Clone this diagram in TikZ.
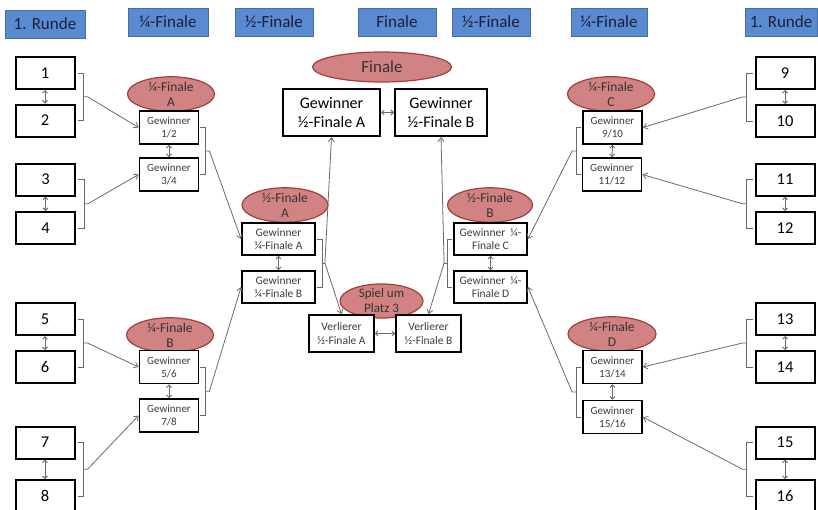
\documentclass[tikz,border=0pt]{standalone}
\usepackage{fontspec}
\setmainfont{Carlito}
\usetikzlibrary{shapes.geometric,arrows.meta}
\definecolor{hdrfill}{HTML}{5A8AD0}
\definecolor{hdrtext}{HTML}{1B1F3A}
\definecolor{elfill}{HTML}{D08382}
\definecolor{eldraw}{HTML}{A23E3E}
\definecolor{smalltext}{HTML}{3C3C3C}
\definecolor{linegray}{HTML}{6A6A6A}
\tikzset{
  hdr/.style={fill=hdrfill, draw=hdrfill!80!black, line width=0.4pt, minimum height=28, inner sep=0, text=hdrtext, font=\fontsize{17}{19}\selectfont},
  team/.style={draw=black, fill=white, line width=2pt, minimum width=59, minimum height=32, inner sep=0, font=\fontsize{16.5}{18}\selectfont},
  qbox/.style={draw=black, fill=white, line width=1.8pt, minimum width=59, minimum height=33, inner sep=0, align=center, text=smalltext, font=\fontsize{11}{13}\selectfont},
  sbox/.style={draw=black, fill=white, line width=1.8pt, minimum width=73, minimum height=32, inner sep=0, align=center, text=smalltext, font=\fontsize{11.5}{13.5}\selectfont},
  fbox/.style={draw=black, fill=white, line width=2pt, minimum height=47, inner sep=0, align=center, font=\fontsize{16}{19}\selectfont},
  vbox/.style={draw=black, fill=white, line width=1.8pt, minimum width=65, minimum height=37, inner sep=0, align=center, text=smalltext, font=\fontsize{11.5}{14}\selectfont},
  ell/.style={ellipse, draw=eldraw, fill=elfill, line width=1.2pt, inner sep=0, align=center, text=black!80, font=\fontsize{13.5}{15}\selectfont},
  brk/.style={draw=linegray, line width=0.8pt},
  arr/.style={draw=linegray, line width=0.8pt, -{Straight Barb[length=4pt,width=6pt]}},
  dbl/.style={draw=linegray, line width=0.9pt, {Straight Barb[length=2.5pt,width=5pt]}-{Straight Barb[length=2.5pt,width=5pt]}}
}
\begin{document}
\begin{tikzpicture}[x=1pt,y=-1pt]
\useasboundingbox[fill=white] (0,0) rectangle (818,509);
% headers
\node[hdr, minimum width=80] (h1) at (45,24) {1. Runde};
\node[hdr, minimum width=80] (h2) at (168,22) {¼-Finale};
\node[hdr, minimum width=78] (h3) at (274,22) {½-Finale};
\node[hdr, minimum width=78] (h4) at (397,22) {Finale};
\node[hdr, minimum width=78] (h5) at (491,22) {½-Finale};
\node[hdr, minimum width=76] (h6) at (609,22) {¼-Finale};
\node[hdr, minimum width=72] (h7) at (781,22) {1. Runde};
% teams left
\node[team] (t1) at (45,73) {1};
\node[team] (t2) at (45,120.5) {2};
\node[team] (t3) at (45.5,179.5) {3};
\node[team] (t4) at (45.5,228) {4};
\node[team] (t5) at (45,319) {5};
\node[team] (t6) at (45,367) {6};
\node[team] (t7) at (45,442.5) {7};
\node[team] (t8) at (45,496) {8};
% teams right
\node[team] (t9) at (785,73) {9};
\node[team] (t10) at (785,121) {10};
\node[team] (t11) at (785,179.5) {11};
\node[team] (t12) at (785,228) {12};
\node[team] (t13) at (785,319) {13};
\node[team] (t14) at (785,367) {14};
\node[team] (t15) at (785,442.5) {15};
\node[team] (t16) at (785,496) {16};
% quarter final ellipses
\node[ell, minimum width=87, minimum height=34] (eqa) at (171,94) {¼-Finale\\A};
\node[ell, minimum width=87, minimum height=33] (eqb) at (170,335) {¼-Finale\\B};
\node[ell, minimum width=87, minimum height=34] (eqc) at (611,94) {¼-Finale\\C};
\node[ell, minimum width=88, minimum height=33] (eqd) at (612,334) {¼-Finale\\D};
% quarter final boxes
\node[qbox] (q12) at (169,127.5) {Gewinner\\1/2};
\node[qbox] (q34) at (169,174.5) {Gewinner\\3/4};
\node[qbox] (q56) at (169,367) {Gewinner\\5/6};
\node[qbox] (q78) at (169,415.5) {Gewinner\\7/8};
\node[qbox] (q910) at (612.5,127.5) {Gewinner\\9/10};
\node[qbox] (q1112) at (612,174.5) {Gewinner\\11/12};
\node[qbox] (q1314) at (612.5,367) {Gewinner\\13/14};
\node[qbox] (q1516) at (612.5,417) {Gewinner\\15/16};
% semi final ellipses
\node[ell, minimum width=86, minimum height=33] (esa) at (285,205) {½-Finale\\A};
\node[ell, minimum width=85, minimum height=34] (esb) at (490,205) {½-Finale\\B};
% semi final boxes
\node[sbox] (sa) at (278.5,239) {Gewinner\\¼-Finale A};
\node[sbox] (sb) at (278.5,287) {Gewinner\\¼-Finale B};
\node[sbox] (sc) at (490.5,239) {Gewinner\ \ ¼-\\Finale C};
\node[sbox] (sd) at (490.5,287) {Gewinner\ \ ¼-\\Finale D};
% final
\node[ell, minimum width=139, minimum height=30, font=\fontsize{17}{19}\selectfont] (efin) at (382,67) {Finale};
\node[fbox, minimum width=97] (fa) at (331.5,112.5) {Gewinner\\½-Finale A};
\node[fbox, minimum width=92] (fb) at (441,112.5) {Gewinner\\½-Finale B};
% third place
\node[ell, minimum width=83, minimum height=28, font=\fontsize{13}{15}\selectfont] (e3) at (381.5,301) {Spiel um\\Platz 3};
\node[vbox] (va) at (341.5,333.5) {Verlierer\\½-Finale A};
\node[vbox] (vb) at (428.5,333.5) {Verlierer\\½-Finale B};
% double arrows
\foreach \a/\b in {t1/t2,t3/t4,t5/t6,t7/t8,t9/t10,t11/t12,t13/t14,t15/t16,q12/q34,q56/q78,q910/q1112,q1314/q1516,sa/sb,sc/sd}
  \draw[dbl] (\a.south) -- (\b.north);
\draw[dbl] (fa.east) -- (fb.west);
\draw[dbl] (va.east) -- (vb.west);
% left brackets (teams)
\foreach \a/\b/\t in {t1/t2/q12,t3/t4/q34,t5/t6/q56,t7/t8/q78}{
  \draw[brk] ([xshift=2]\a.east) -- ++(6,0) coordinate (bt) |- ([xshift=2]\b.east);
  \path (bt |- \a.east) -- (bt |- \b.east) coordinate[pos=0.5] (bm);
  \draw[arr] (bm) -- ++(4,0) -- (\t.west);
}
% right brackets (teams)
\foreach \a/\b/\t in {t9/t10/q910,t11/t12/q1112,t13/t14/q1314,t15/t16/q1516}{
  \draw[brk] ([xshift=-2]\a.west) -- ++(-6,0) coordinate (bt) |- ([xshift=-2]\b.west);
  \path (bt |- \a.west) -- (bt |- \b.west) coordinate[pos=0.5] (bm);
  \draw[arr] (bm) -- ++(-4,0) -- (\t.east);
}
% quarter final brackets
\foreach \a/\b/\t in {q12/q34/sa,q56/q78/sb}{
  \draw[brk] ([xshift=1]\a.east) -- ++(5,0) coordinate (bt) |- ([xshift=1]\b.east);
  \path (bt |- \a.east) -- (bt |- \b.east) coordinate[pos=0.5] (bm);
  \draw[arr] (bm) -- ++(4,0) -- (\t.west);
}
\foreach \a/\b/\t in {q910/q1112/sc,q1314/q1516/sd}{
  \draw[brk] ([xshift=-1]\a.west) -- ++(-5,0) coordinate (bt) |- ([xshift=-1]\b.west);
  \path (bt |- \a.west) -- (bt |- \b.west) coordinate[pos=0.5] (bm);
  \draw[arr] (bm) -- ++(-4,0) -- (\t.east);
}
% semi final brackets
\draw[brk] ([xshift=1]sa.east) -- ++(5,0) coordinate (bsl) |- ([xshift=1]sb.east);
\path (bsl |- sa.east) -- (bsl |- sb.east) coordinate[pos=0.5] (bml);
\draw[brk] (bml) -- ++(3,0) coordinate (jl);
\draw[arr] (jl) -- (fa.south);
\draw[arr] (jl) -- (va.north);
\draw[brk] ([xshift=-1]sc.west) -- ++(-5,0) coordinate (bsr) |- ([xshift=-1]sd.west);
\path (bsr |- sc.west) -- (bsr |- sd.west) coordinate[pos=0.5] (bmr);
\draw[brk] (bmr) -- ++(-3,0) coordinate (jr);
\draw[arr] (jr) -- (fb.south);
\draw[arr] (jr) -- (vb.north);
\end{tikzpicture}
\end{document}
